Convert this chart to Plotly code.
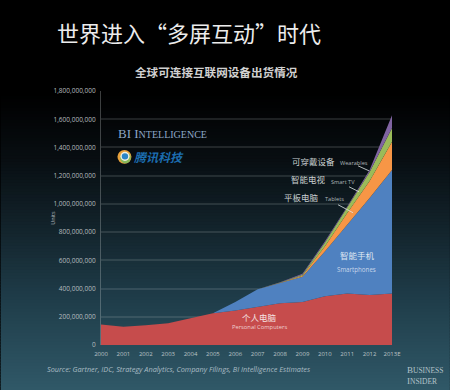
import plotly.graph_objects as go

years = ["2000","2001","2002","2003","2004","2005","2006","2007","2008","2009","2010","2011","2012","2013E"]
personal_computers = [145,130,140,155,190,225,245,272,295,305,345,365,355,365]
smartphones =        [0,0,0,0,0,0,60,123,145,179,318,487,687,875]
tablets =            [0,0,0,0,0,0,0,0,1,7,35,84,120,200]
smart_tvs =          [0,0,0,0,0,0,0,0,2,7,26,36,64,97]
wearables =          [0,0,0,0,0,0,0,0,1,7,9,9,14,92]
y_ticks = [0,200,400,600,800,1000,1200,1400,1600,1800]

series = [
    ("Personal Computers", personal_computers, "#c64c4c"),
    ("Smartphones", smartphones, "#4f81c0"),
    ("Tablets", tablets, "#f79646"),
    ("Smart TV", smart_tvs, "#9bbb59"),
    ("Wearables", wearables, "#8064a2"),
]

W, H = 450, 390
L, R, T, B = 100.5, 392, 91, 345.5
def fx(x): return (x - L) / (R - L)
def fy(y): return (B - y) / (B - T)

fig = go.Figure()
for name, vals, col in series:
    fig.add_trace(go.Scatter(x=years, y=[v * 1e6 for v in vals], name=name, mode="lines",
                             stackgroup="one", line=dict(width=0, color=col),
                             fillcolor=col, showlegend=False, hoverinfo="skip"))

# background gradient
stops = [(0,(0,0,0)),(95,(0,0,0)),(160,(8,14,18)),(230,(19,36,44)),(300,(31,61,74)),(390,(48,88,103))]
def grad(y):
    for (a,ca),(b,cb) in zip(stops, stops[1:]):
        if a <= y <= b:
            t = (y-a)/(b-a)
            return "rgb(%d,%d,%d)" % tuple(round(p+(q-p)*t) for p,q in zip(ca,cb))
    return "rgb(0,0,0)"
shapes = []
for y in range(90, 390, 3):
    shapes.append(dict(type="rect", xref="paper", yref="paper", layer="below",
                       x0=fx(0), x1=fx(450), y0=fy(y), y1=fy(y+3.5),
                       fillcolor=grad(y+1.5), line=dict(width=0)))

def seg(x0,y0,x1,y1,col="rgba(225,230,230,0.8)",w=1):
    shapes.append(dict(type="line", xref="paper", yref="paper", x0=fx(x0), x1=fx(x1),
                       y0=fy(y0), y1=fy(y1), line=dict(color=col, width=w)))
seg(358,166,369,171); seg(349,187,359,192); seg(338,205,353,213)

# logo
def circ(cx,cy,r,col):
    shapes.append(dict(type="circle", xref="paper", yref="paper", x0=fx(cx-r), x1=fx(cx+r),
                       y0=fy(cy+r), y1=fy(cy-r), fillcolor=col, line=dict(width=0)))
circ(124,157,7,"#e8a23c"); circ(125,158,5.5,"#86b85a"); circ(124.5,156.5,4.6,"#f0efe0"); circ(124.5,156.5,3.2,"#2a86c8")

CJK = "Noto Sans CJK SC"
SANS = "Open Sans"
def txt(x,y,s,size,col,font=SANS,anchor="left",**kw):
    fig.add_annotation(xref="paper",yref="paper",x=fx(x),y=fy(y),text=s,showarrow=False,
                       xanchor=anchor,yanchor="middle",align=anchor,
                       font=dict(size=size,color=col,family=font),borderpad=0,**kw)

txt(55,32,"世界进入“多屏互动”时代",22,"#ececec",CJK)
txt(216,72,"<b>全球可连接互联网设备出货情况</b>",11.6,"#d0d0d0",CJK,"center")
txt(117,134,'BI I<span style="font-size:10px">NTELLIGENCE</span>',13,"#8ea7c6","Liberation Serif")
txt(133,157,"<b><i>腾讯科技</i></b>",12,"#1c6db0",CJK)
txt(291,161.5,"可穿戴设备",8.5,"#c9cfd0",CJK)
txt(339,163,"Wearables",5.6,"#aeb6b8")
txt(289.5,179.5,"智能电视",8.5,"#c9cfd0",CJK)
txt(330,182,"Smart TV",5.6,"#aeb6b8")
txt(283,197,"平板电脑",8.5,"#c9cfd0",CJK)
txt(324,199,"Tablets",5.6,"#aeb6b8")
txt(357,255,"智能手机",8.5,"#dfe7f2",CJK,"center")
txt(356.5,270,"Smartphones",6.2,"#c8d6ea",SANS,"center")
txt(259.5,317,"个人电脑",8.5,"#f5e4e4",CJK,"center")
txt(259.5,327.7,"Personal Computers",5.8,"#efd0d0",SANS,"center")
txt(45,370,"<i>Source: Gartner, IDC, Strategy Analytics, Company Filings, BI Intelligence Estimates</i>",7.3,"#a9bcc4")
txt(406,371,'B<span style="font-size:7.5px">USINESS</span>',9,"#b4c3ca","Liberation Serif")
txt(406,382,'I<span style="font-size:7.5px">NSIDER</span>',9,"#b4c3ca","Liberation Serif")
txt(52.5,218,"Units",5.5,"#b5bcc0",SANS,"center",textangle=-90)

grid = "rgba(200,205,205,0.14)"
fig.update_layout(
    width=W, height=H, autosize=False,
    margin=dict(l=L, r=W-R, t=T, b=H-B, pad=0, autoexpand=False),
    paper_bgcolor="#000000", plot_bgcolor="rgba(0,0,0,0)",
    shapes=shapes, showlegend=False,
    xaxis=dict(type="category", categoryorder="array", categoryarray=years, range=[0,13],
               showgrid=False, zeroline=False, showline=False, ticks="", tickmode="array",
               tickvals=years, ticktext=years, ticklabelstandoff=4,
               tickfont=dict(size=6,color="#bcc3c6",family=SANS)),
    yaxis=dict(range=[0,1.8e9], tickmode="array", tickvals=[v*1e6 for v in y_ticks],
               tickformat=",d", showgrid=True, gridcolor=grid, gridwidth=1.5, zeroline=False,
               showline=True, linecolor="rgba(200,205,205,0.3)", linewidth=1, ticks="",
               ticklabelstandoff=3, tickfont=dict(size=6.5,color="#b5bcbf",family=SANS)),
)
fig.write_html("out.html", config=dict(displayModeBar=False),
               post_script="document.body.style.margin='0';document.body.style.background='#000';")
